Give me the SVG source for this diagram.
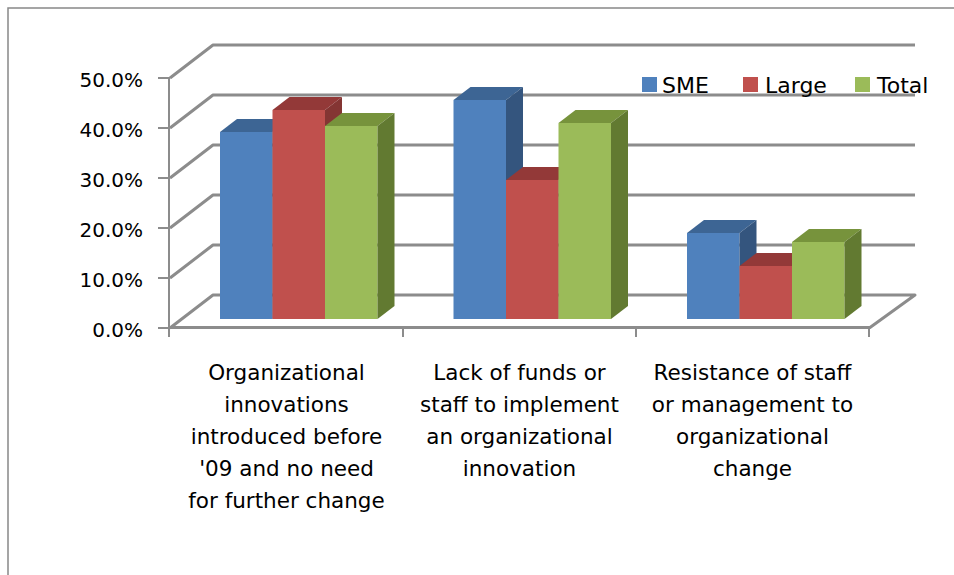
<svg xmlns="http://www.w3.org/2000/svg" width="954" height="575" viewBox="0 0 954 575">
<style>
.grid{fill:none;stroke:#8c8c8c;stroke-width:3;stroke-linejoin:round}
.axis{fill:none;stroke:#8c8c8c;stroke-width:2}
.ylab{font-family:"DejaVu Sans",sans-serif;font-size:20px;fill:#000;text-anchor:end}
.cat{font-family:"DejaVu Sans",sans-serif;font-size:21.5px;fill:#000;text-anchor:middle}
.leg{font-family:"DejaVu Sans",sans-serif;font-size:22px;fill:#000}
.bf{fill:#4f81bd}.bt{fill:#3d6594}.bs{fill:#34557e}
.rf{fill:#c0504d}.rt{fill:#933938}.rs{fill:#843533}
.gf{fill:#9bbb59}.gt{fill:#77933c}.gs{fill:#627a31}
</style>
<rect x="0" y="0" width="954" height="575" fill="#fff"/>
<rect x="8" y="8" width="980" height="620" fill="none" stroke="#888" stroke-width="1.5"/>
<g id="gridlines">
<polyline class="grid" points="170,78 213,45 915,45"/>
<polyline class="grid" points="170,128 213,95 915,95"/>
<polyline class="grid" points="170,178 213,145 915,145"/>
<polyline class="grid" points="170,228 213,195 915,195"/>
<polyline class="grid" points="170,278 213,245 915,245"/>
<polyline class="grid" points="170,328 213,295 915,295 870,327.5 170,327.5"/>
</g>
<g id="axes">
<line class="axis" x1="169" y1="77" x2="169" y2="337"/>
<line class="axis" x1="158" y1="78" x2="169" y2="78"/>
<line class="axis" x1="158" y1="128" x2="169" y2="128"/>
<line class="axis" x1="158" y1="178" x2="169" y2="178"/>
<line class="axis" x1="158" y1="228" x2="169" y2="228"/>
<line class="axis" x1="158" y1="278" x2="169" y2="278"/>
<line class="axis" x1="158" y1="328" x2="169" y2="328"/>
<line class="axis" x1="403" y1="328" x2="403" y2="337"/>
<line class="axis" x1="636" y1="328" x2="636" y2="337"/>
<line class="axis" x1="869" y1="328" x2="869" y2="337"/>
</g>
<g id="y-labels">
<text class="ylab" x="143" y="87">50.0%</text>
<text class="ylab" x="143" y="137">40.0%</text>
<text class="ylab" x="143" y="187">30.0%</text>
<text class="ylab" x="143" y="237">20.0%</text>
<text class="ylab" x="143" y="287">10.0%</text>
<text class="ylab" x="143" y="337">0.0%</text>
</g>
<g id="group1">
<rect class="bf" x="220" y="132" width="52.5" height="187"/>
<polygon class="bt" points="220,132 272.5,132 289.5,119 237,119"/>
<polygon class="bs" points="272.5,132 289.5,119 289.5,306 272.5,319"/>
<rect class="rf" x="272.5" y="110" width="52.5" height="209"/>
<polygon class="rt" points="272.5,110 325,110 342,97 289.5,97"/>
<polygon class="rs" points="325,110 342,97 342,306 325,319"/>
<rect class="gf" x="325" y="126" width="52.5" height="193"/>
<polygon class="gt" points="325,126 377.5,126 394.5,113 342,113"/>
<polygon class="gs" points="377.5,126 394.5,113 394.5,306 377.5,319"/>
</g>
<g id="group2">
<rect class="bf" x="453.5" y="100" width="52.5" height="219"/>
<polygon class="bt" points="453.5,100 506,100 523,87 470.5,87"/>
<polygon class="bs" points="506,100 523,87 523,306 506,319"/>
<rect class="rf" x="506" y="180" width="52.5" height="139"/>
<polygon class="rt" points="506,180 558.5,180 575.5,167 523,167"/>
<polygon class="rs" points="558.5,180 575.5,167 575.5,306 558.5,319"/>
<rect class="gf" x="558.5" y="123" width="52.5" height="196"/>
<polygon class="gt" points="558.5,123 611,123 628,110 575.5,110"/>
<polygon class="gs" points="611,123 628,110 628,306 611,319"/>
</g>
<g id="group3">
<rect class="bf" x="687" y="233" width="52.5" height="86"/>
<polygon class="bt" points="687,233 739.5,233 756.5,220 704,220"/>
<polygon class="bs" points="739.5,233 756.5,220 756.5,306 739.5,319"/>
<rect class="rf" x="739.5" y="266" width="52.5" height="53"/>
<polygon class="rt" points="739.5,266 792,266 809,253 756.5,253"/>
<polygon class="rs" points="792,266 809,253 809,306 792,319"/>
<rect class="gf" x="792" y="242" width="52.5" height="77"/>
<polygon class="gt" points="792,242 844.5,242 861.5,229 809,229"/>
<polygon class="gs" points="844.5,242 861.5,229 861.5,306 844.5,319"/>
</g>
<g id="legend">
<rect class="bf" x="642" y="77" width="15" height="15"/>
<text class="leg" x="662" y="93">SME</text>
<rect class="rf" x="743" y="77" width="15" height="15"/>
<text class="leg" x="765" y="93">Large</text>
<rect class="gf" x="855" y="77" width="15" height="15"/>
<text class="leg" x="877" y="93">Total</text>
</g>
<g id="category-labels">
<text class="cat" x="286.5" y="380">Organizational</text>
<text class="cat" x="286.5" y="412">innovations</text>
<text class="cat" x="286.5" y="444">introduced before</text>
<text class="cat" x="286.5" y="476">'09 and no need</text>
<text class="cat" x="286.5" y="508">for further change</text>
<text class="cat" x="519.5" y="380">Lack of funds or</text>
<text class="cat" x="519.5" y="412">staff to implement</text>
<text class="cat" x="519.5" y="444">an organizational</text>
<text class="cat" x="519.5" y="476">innovation</text>
<text class="cat" x="752.5" y="380">Resistance of staff</text>
<text class="cat" x="752.5" y="412">or management to</text>
<text class="cat" x="752.5" y="444">organizational</text>
<text class="cat" x="752.5" y="476">change</text>
</g>
</svg>
